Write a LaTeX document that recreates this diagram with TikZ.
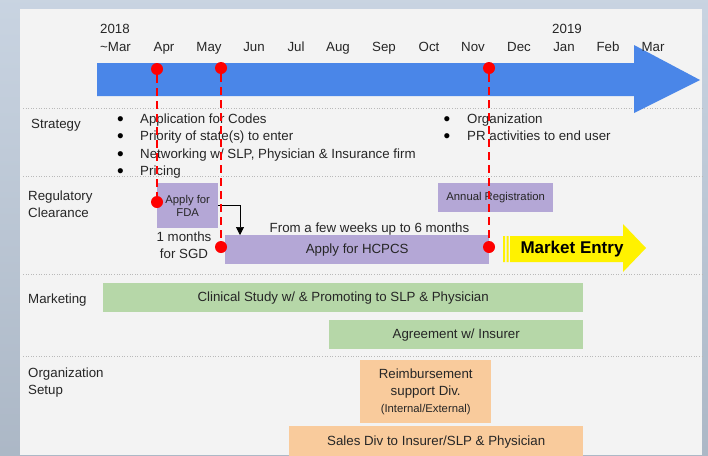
\documentclass[tikz,border=0pt]{standalone}
\usepackage{fontspec}
\setmainfont{Liberation Sans}
\usetikzlibrary{arrows.meta}
\definecolor{slidebg}{HTML}{BFCCDC}
\definecolor{panel}{HTML}{F3F3F3}
\definecolor{textgray}{HTML}{262626}
\definecolor{tlblue}{HTML}{4A86E8}
\definecolor{pinred}{HTML}{FF0000}
\definecolor{regpurple}{HTML}{B4A7D6}
\definecolor{mktgreen}{HTML}{B6D7A8}
\definecolor{orgorange}{HTML}{F9CB9C}
\begin{document}
\begin{tikzpicture}[x=1pt,y=-1pt,
  every node/.style={inner sep=0pt,text=textgray,font=\fontsize{13.3}{17}\selectfont},
  taskbox/.style={anchor=north west,align=center},
  smalltext/.style={font=\fontsize{11.3}{13.5}\selectfont},
  bulletmark/.style={text=black,font=\fontsize{19}{19}\selectfont},
  sepline/.style={gray!55,dotted,line width=0.6pt},
  reddot/.style={circle,fill=pinred,minimum size=12pt},
  reddash/.style={pinred,line width=2.4pt,dash pattern=on 8pt off 5pt}]
\useasboundingbox (0,0) rectangle (708,455);
\clip (0,0) rectangle (708,455);
% slide
\shade[top color=slidebg!85!white,bottom color=slidebg!90!black] (0,0) rectangle (708,455);
\fill[panel] (20,9) rectangle (702,455);
% rows
\foreach \y in {108,176,274,356}
  \draw[sepline] (23,\y) -- (702,\y);
% time line
\fill[tlblue] (97,63) -- (634,63) -- (634,45) -- (700,80) -- (634,113)
      -- (634,96) -- (97,96) -- cycle;
\node[anchor=base west] (yr2018) at (100,33) {2018};
\node[anchor=base west] (mon0) at (100,51) {\textasciitilde Mar};
\node[anchor=base] (yr2019) at (567,33) {2019};
\foreach \m/\x [count=\i] in {Apr/164,May/209,Jun/254,Jul/296,Aug/338,Sep/384,
    Oct/429,Nov/473,Dec/519,Jan/564,Feb/608,Mar/653}
  \node[anchor=base] (mon\i) at (\x,51) {\m};
% row labels
\node[anchor=base west] (strategy) at (31,128) {Strategy};
\node[anchor=base west] (regul) at (28,200) {Regulatory};
\node[anchor=base west] (clear) at (28,217) {Clearance};
\node[anchor=base west] (marketing) at (28,303) {Marketing};
\node[anchor=base west] (organ) at (28,377) {Organization};
\node[anchor=base west] (setup) at (28,394) {Setup};
% strategy
\foreach \t [count=\i from 0] in {Application for Codes,Priority of state(s) to enter,
    {Networking w/ SLP, Physician \& Insurance firm},Pricing}{
  \node[anchor=base,bulletmark] (bulL\i) at (120.5,125+17.5*\i) {\textbullet};
  \node[anchor=base west] (stratL\i) at (140,123+17.5*\i) {\t};
}
\foreach \t [count=\i from 0] in {Organization,PR activities to end user}{
  \node[anchor=base,bulletmark] (bulR\i) at (447,125+17.5*\i) {\textbullet};
  \node[anchor=base west] (stratR\i) at (467,123+17.5*\i) {\t};
}
% regulatory clearance
\node[taskbox,fill=regpurple,minimum width=61pt,minimum height=45pt,smalltext] (fda)
  at (157,183) {Apply for\\FDA};
\node[taskbox,fill=regpurple,minimum width=264pt,minimum height=29pt] (hcpcs)
  at (225,235) {Apply for HCPCS};
\node[taskbox,fill=regpurple,minimum width=115pt,minimum height=29pt,smalltext] (annual)
  at (438,183) {Annual Registration};
\node[anchor=base] (sgd1) at (184,241) {1 months};
\node[anchor=base] (sgd2) at (184,258) {for SGD};
\node[anchor=base] (weeks) at (369.5,232) {From a few weeks up to 6 months};
\draw[line width=0.7pt,-{Triangle[length=8pt,width=8pt]}] (fda.east) -| ([xshift=15pt]hcpcs.north west);
% market entry
\fill[yellow] (503,236) rectangle (505,262) (506.5,236) rectangle (508.5,262);
\fill[yellow] (510,236) -- (623,236) -- (623,224) -- (646,248) -- (623,272)
      -- (623,262) -- (510,262) -- cycle;
\node[text=black,font=\bfseries\fontsize{17}{20}\selectfont] (market) at (572,249) {Market Entry};
% marketing
\node[taskbox,fill=mktgreen,minimum width=480pt,minimum height=29pt] (clinical)
  at (103,283) {Clinical Study w/ \& Promoting to SLP \& Physician};
\node[taskbox,fill=mktgreen,minimum width=254pt,minimum height=29pt] (insurer)
  at (329,320) {Agreement w/ Insurer};
% organization setup
\node[taskbox,fill=orgorange,minimum width=131pt,minimum height=63pt] (reimb)
  at (360,360) {Reimbursement\\support Div.\\{\fontsize{11.3}{13}\selectfont (Internal/External)}};
\node[taskbox,fill=orgorange,minimum width=294pt,minimum height=32pt] (sales)
  at (289,426) {Sales Div to Insurer/SLP \& Physician};
% milestones
\foreach \n/\xa/\ya/\yb in {A/157/69/202,B/221/68/247,C/489/68/247}{
  \node[reddot] (top\n) at (\xa,\ya) {};
  \node[reddot] (bot\n) at (\xa,\yb) {};
  \draw[reddash] (top\n) -- (bot\n);
}
\end{tikzpicture}
\end{document}
